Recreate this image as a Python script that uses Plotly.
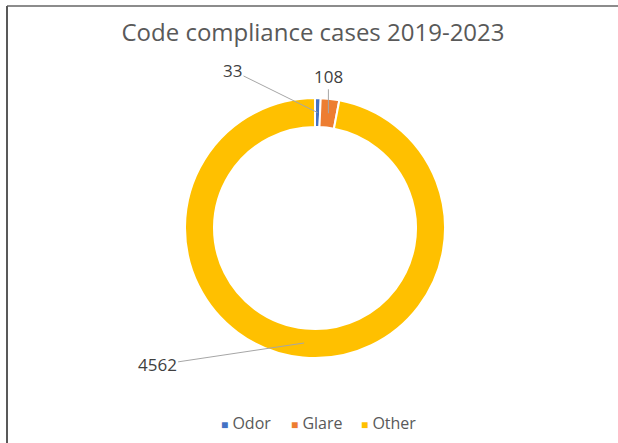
import math
import plotly.graph_objects as go

categories = ["Odor", "Glare", "Other"]
values = [33, 108, 4562]
colors = ["#4472C4", "#ED7D31", "#FFC000"]
label_offsets = [(-85, -42), (0, -37), (-147, 22)]  # label text offset in px
legend_x_px = [219, 289, 359]

W, H = 618, 443
cx, cy, R, r_in = 315, 228, 130, 101
FONT = "Open Sans, Liberation Sans, sans-serif"

fig = go.Figure(go.Pie(
    labels=categories, values=values, sort=False, direction="clockwise",
    rotation=0, hole=r_in / R,
    marker=dict(colors=colors, line=dict(color="white", width=2)),
    textinfo="none", hoverinfo="label+value", showlegend=False,
    domain=dict(x=[(cx - R) / W, (cx + R) / W], y=[1 - (cy + R) / H, 1 - (cy - R) / H]),
))

total = sum(values)
cum = 0
annotations = []
rm = (R + r_in) / 2
for v, (ax, ay) in zip(values, label_offsets):
    ang = math.radians((cum + v / 2) / total * 360)
    cum += v
    px = cx + rm * math.sin(ang)
    py = cy - rm * math.cos(ang)
    annotations.append(dict(
        x=px / W, y=1 - py / H, xref="paper", yref="paper",
        text=str(v), showarrow=True, arrowhead=0, arrowwidth=1,
        arrowcolor="#A6A6A6", ax=ax, ay=ay,
        font=dict(family=FONT, size=17, color="#404040"),
    ))

for name, col, lx in zip(categories, colors, legend_x_px):
    annotations.append(dict(
        x=lx / W, y=1 - 423 / H, xref="paper", yref="paper", xanchor="left", yanchor="middle",
        showarrow=False,
        text=f"<span style='color:{col};font-size:12px'>■</span> {name}",
        font=dict(family=FONT, size=16, color="#595959"),
    ))

fig.update_layout(
    width=W, height=H,
    margin=dict(l=0, r=0, t=0, b=0),
    paper_bgcolor="white", plot_bgcolor="white",
    showlegend=False,
    title=dict(text="Code compliance cases 2019-2023", x=313 / W, xanchor="center",
               y=1 - 33 / H, yanchor="middle", yref="container",
               font=dict(family=FONT, size=24, color="#595959")),
    annotations=annotations,
    shapes=[
        dict(type="line", xref="paper", yref="paper", x0=7 / W, x1=1, y0=1 - 6 / H, y1=1 - 6 / H,
             line=dict(color="#8C8C8C", width=2)),
        dict(type="line", xref="paper", yref="paper", x0=7 / W, x1=7 / W, y0=0, y1=1 - 6 / H,
             line=dict(color="#595959", width=2)),
    ],
)

fig.write_html("out.html", config={"displayModeBar": False},
               post_script="document.body.style.margin='0px';")
